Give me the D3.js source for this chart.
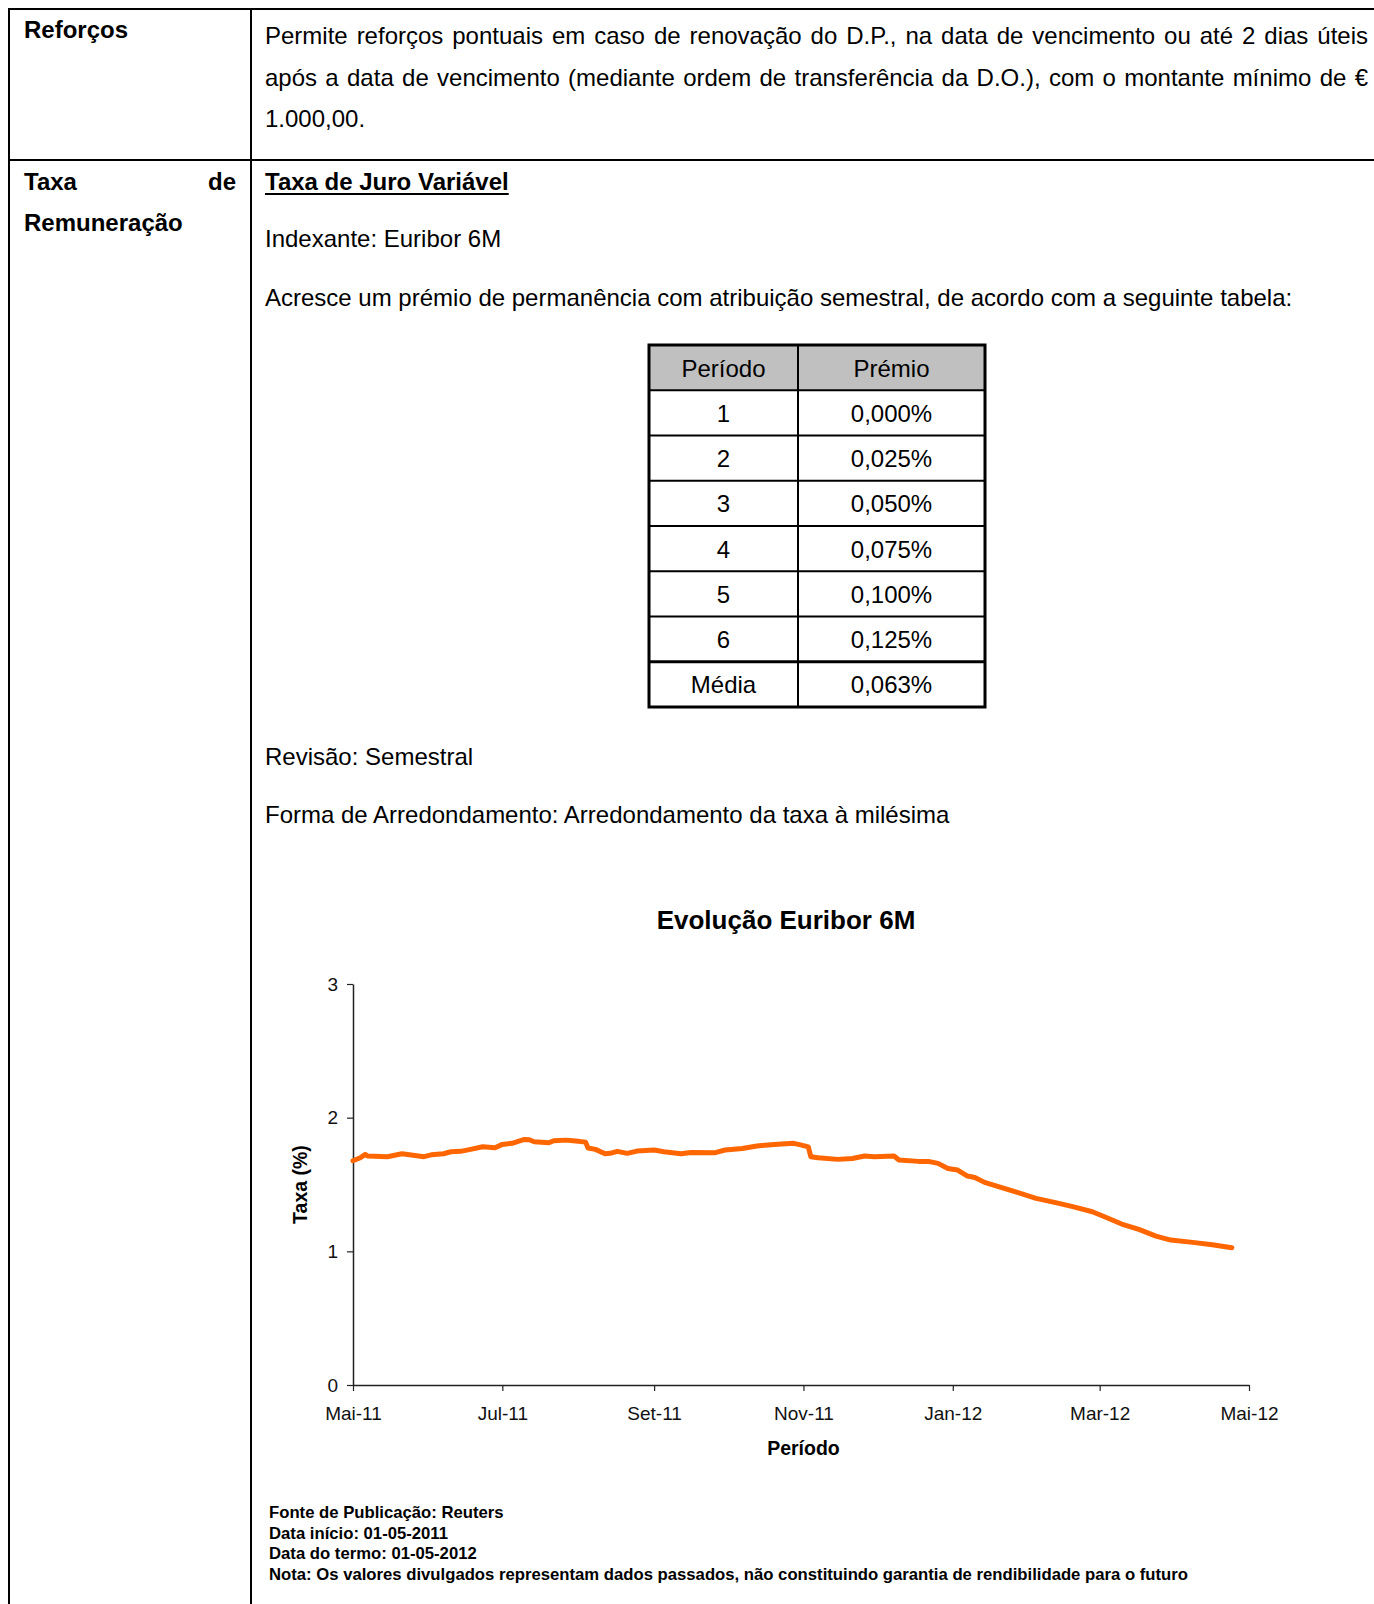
<!DOCTYPE html>
<html lang="pt">
<head>
<meta charset="utf-8">
<title>Evolução Euribor 6M</title>
<script src="https://cdn.jsdelivr.net/npm/d3@7"></script>
<style>
  html, body { margin: 0; padding: 0; background: #fff; }
  svg { display: block; font-family: "Liberation Sans", Arial, Helvetica, sans-serif; }
</style>
</head>
<body>
<div id="app"></div>
<script>
// Euribor 6M (daily fixings thinned out)
const euriborDates = [
  '2011-05-01', '2011-05-04', '2011-05-06', '2011-05-07', '2011-05-15', '2011-05-21', '2011-05-30',
  '2011-06-02', '2011-06-07', '2011-06-10', '2011-06-14', '2011-06-18', '2011-06-23', '2011-06-28',
  '2011-07-01', '2011-07-05', '2011-07-10', '2011-07-12', '2011-07-14', '2011-07-20', '2011-07-22',
  '2011-07-27', '2011-07-31', '2011-08-04', '2011-08-05', '2011-08-08', '2011-08-12', '2011-08-14',
  '2011-08-17', '2011-08-21', '2011-08-25', '2011-09-01', '2011-09-05', '2011-09-12', '2011-09-16',
  '2011-09-26', '2011-09-30', '2011-10-07', '2011-10-13', '2011-10-20', '2011-10-28', '2011-10-30',
  '2011-11-03', '2011-11-04', '2011-11-07', '2011-11-15', '2011-11-21', '2011-11-26', '2011-11-30',
  '2011-12-08', '2011-12-10', '2011-12-18', '2011-12-22', '2011-12-26', '2011-12-30', '2012-01-03',
  '2012-01-07', '2012-01-10', '2012-01-14', '2012-01-21', '2012-01-27', '2012-02-04', '2012-02-12',
  '2012-02-19', '2012-02-27', '2012-03-03', '2012-03-10', '2012-03-17', '2012-03-24', '2012-03-30',
  '2012-04-08', '2012-04-16', '2012-04-24'
];
const euriborValues = [
  1.678, 1.700, 1.725, 1.713, 1.708, 1.730, 1.708,
  1.722, 1.730, 1.745, 1.748, 1.763, 1.782, 1.775,
  1.800, 1.808, 1.837, 1.835, 1.820, 1.812, 1.827,
  1.832, 1.825, 1.817, 1.773, 1.763, 1.730, 1.733,
  1.748, 1.733, 1.750, 1.758, 1.745, 1.730, 1.740,
  1.738, 1.758, 1.770, 1.788, 1.800, 1.808, 1.800,
  1.782, 1.708, 1.700, 1.688, 1.695, 1.713, 1.708,
  1.713, 1.683, 1.673, 1.673, 1.658, 1.620, 1.608,
  1.563, 1.553, 1.516, 1.476, 1.443, 1.396, 1.364,
  1.334, 1.296, 1.259, 1.204, 1.164, 1.114, 1.084,
  1.067, 1.049, 1.027
];
const xTickDates = ['2011-05-01', '2011-07-01', '2011-09-01', '2011-11-01', '2012-01-01', '2012-03-01', '2012-05-01'];
const xTickLabels = ['Mai-11', 'Jul-11', 'Set-11', 'Nov-11', 'Jan-12', 'Mar-12', 'Mai-12'];
const yTicks = [0, 1, 2, 3];

// premium table
const premioPeriodos = ['1', '2', '3', '4', '5', '6', 'Média'];
const premioValores = ['0,000%', '0,025%', '0,050%', '0,075%', '0,100%', '0,125%', '0,063%'];
const tableHeader = ['Período', 'Prémio'];

const notes = [
  'Fonte de Publicação: Reuters',
  'Data início: 01-05-2011',
  'Data do termo: 01-05-2012',
  'Nota: Os valores divulgados representam dados passados, não constituindo garantia de rendibilidade para o futuro'
];

const pageWidth = 1374;
const pageHeight = 1604;
const parseDate = d3.timeParse('%Y-%m-%d');

const svg = d3.select('#app')
  .append('svg')
  .attr('width', pageWidth)
  .attr('height', pageHeight)
  .attr('viewBox', `0 0 ${pageWidth} ${pageHeight}`);

// ---- document frame (two-column table, clipped on the right like the scan)
const frame = svg.append('g').attr('stroke', '#000').attr('stroke-width', 2);
frame.append('line').attr('x1', 8).attr('x2', pageWidth).attr('y1', 9).attr('y2', 9);
frame.append('line').attr('x1', 8).attr('x2', pageWidth).attr('y1', 160).attr('y2', 160);
frame.append('line').attr('x1', 9).attr('x2', 9).attr('y1', 8).attr('y2', pageHeight);
frame.append('line').attr('x1', 251).attr('x2', 251).attr('y1', 8).attr('y2', pageHeight);

const body = svg.append('g').attr('font-size', 24).attr('fill', '#000');

// spread words so the line fills [x0, x1], like justified paragraph text
function justifyLine(parent, text, x0, x1, y, weight) {
  const words = text.split(' ');
  const nodes = words.map((w) => parent.append('text')
    .attr('y', y)
    .attr('font-weight', weight || 'normal')
    .text(w));
  const widths = nodes.map((n) => n.node().getComputedTextLength());
  const gap = words.length > 1 ? (x1 - x0 - d3.sum(widths)) / (words.length - 1) : 0;
  let x = x0;
  nodes.forEach((n, i) => {
    n.attr('x', x);
    x += widths[i] + gap;
  });
}

// left column labels
body.append('text').attr('x', 24).attr('y', 38).attr('font-weight', 'bold').text('Reforços');
justifyLine(body, 'Taxa de', 24, 236, 190, 'bold');
body.append('text').attr('x', 24).attr('y', 231).attr('font-weight', 'bold').text('Remuneração');

// right column paragraphs
justifyLine(body, 'Permite reforços pontuais em caso de renovação do D.P., na data de vencimento ou até 2 dias úteis', 265, 1368, 44);
justifyLine(body, 'após a data de vencimento (mediante ordem de transferência da D.O.), com o montante mínimo de €', 265, 1368, 86);
body.append('text').attr('x', 265).attr('y', 127).text('1.000,00.');

const heading = body.append('text').attr('x', 265).attr('y', 190).attr('font-weight', 'bold')
  .text('Taxa de Juro Variável');
const headingWidth = heading.node().getComputedTextLength();
body.append('line')
  .attr('x1', 265).attr('x2', 265 + headingWidth)
  .attr('y1', 194).attr('y2', 194)
  .attr('stroke', '#000').attr('stroke-width', 2);

body.append('text').attr('x', 265).attr('y', 247).text('Indexante: Euribor 6M');
body.append('text').attr('x', 265).attr('y', 306)
  .text('Acresce um prémio de permanência com atribuição semestral, de acordo com a seguinte tabela:');
body.append('text').attr('x', 265).attr('y', 765).text('Revisão: Semestral');
body.append('text').attr('x', 265).attr('y', 823)
  .text('Forma de Arredondamento: Arredondamento da taxa à milésima');

// ---- premium table
const tableRows = premioPeriodos.map((p, i) => ({ periodo: p, premio: premioValores[i] }));
const rowScale = d3.scaleBand()
  .domain(['header', ...premioPeriodos])
  .range([345, 707]);
const colX = [649, 798, 985];

const table = svg.append('g').attr('class', 'premio-table');
table.append('rect')
  .attr('x', colX[0]).attr('y', rowScale('header'))
  .attr('width', colX[2] - colX[0]).attr('height', rowScale.bandwidth())
  .attr('fill', '#c0c0c0');

table.selectAll('line.row')
  .data(premioPeriodos)
  .join('line')
  .attr('class', 'row')
  .attr('x1', colX[0]).attr('x2', colX[2])
  .attr('y1', (d) => rowScale(d)).attr('y2', (d) => rowScale(d))
  .attr('stroke', '#000')
  .attr('stroke-width', (d) => (d === 'Média' ? 3 : 2));
table.append('line')
  .attr('x1', colX[1]).attr('x2', colX[1])
  .attr('y1', rowScale('header')).attr('y2', 707)
  .attr('stroke', '#000').attr('stroke-width', 2);
table.append('rect')
  .attr('x', colX[0]).attr('y', rowScale('header'))
  .attr('width', colX[2] - colX[0]).attr('height', 707 - rowScale('header'))
  .attr('fill', 'none').attr('stroke', '#000').attr('stroke-width', 3);

const cellText = table.append('g').attr('font-size', 24).attr('text-anchor', 'middle').attr('fill', '#000');
cellText.selectAll('text.head')
  .data(tableHeader)
  .join('text')
  .attr('class', 'head')
  .attr('x', (d, i) => (colX[i] + colX[i + 1]) / 2)
  .attr('y', rowScale('header') + rowScale.bandwidth() / 2 + 9)
  .text((d) => d);
cellText.selectAll('text.periodo')
  .data(tableRows)
  .join('text')
  .attr('class', 'periodo')
  .attr('x', (colX[0] + colX[1]) / 2)
  .attr('y', (d) => rowScale(d.periodo) + rowScale.bandwidth() / 2 + 9)
  .text((d) => d.periodo);
cellText.selectAll('text.premio')
  .data(tableRows)
  .join('text')
  .attr('class', 'premio')
  .attr('x', (colX[1] + colX[2]) / 2)
  .attr('y', (d) => rowScale(d.periodo) + rowScale.bandwidth() / 2 + 9)
  .text((d) => d.premio);

// ---- chart
const margin = { top: 984, left: 353 };
const plotWidth = 896;
const plotHeight = 401;

const x = d3.scaleTime()
  .domain([parseDate('2011-05-01'), parseDate('2012-05-01')])
  .range([0, plotWidth]);
const y = d3.scaleLinear().domain([0, 3]).range([plotHeight, 0]);

const chart = svg.append('g').attr('transform', `translate(${margin.left},${margin.top})`);

chart.append('text')
  .attr('x', 433)
  .attr('y', -55)
  .attr('text-anchor', 'middle')
  .attr('font-size', 26)
  .attr('font-weight', 'bold')
  .text('Evolução Euribor 6M');

const xAxis = chart.append('g')
  .attr('transform', `translate(0,${plotHeight})`)
  .call(d3.axisBottom(x)
    .tickValues(xTickDates.map(parseDate))
    .tickFormat((d, i) => xTickLabels[i])
    .tickSize(6)
    .tickSizeOuter(0)
    .tickPadding(16));

const yAxis = chart.append('g')
  .call(d3.axisLeft(y)
    .tickValues(yTicks)
    .tickFormat(d3.format('d'))
    .tickSize(6)
    .tickSizeOuter(0)
    .tickPadding(9));

[xAxis, yAxis].forEach((axis) => {
  axis.select('.domain').attr('stroke', '#222').attr('stroke-width', 1.5);
  axis.selectAll('.tick line').attr('stroke', '#222').attr('stroke-width', 1.2);
  axis.selectAll('.tick text')
    .attr('font-family', '"Liberation Sans", Arial, sans-serif')
    .attr('font-size', 19)
    .attr('fill', '#111');
});

chart.append('text')
  .attr('x', x(parseDate('2011-11-01')))
  .attr('y', plotHeight + 70)
  .attr('text-anchor', 'middle')
  .attr('font-size', 19.5)
  .attr('font-weight', 'bold')
  .text('Período');

chart.append('text')
  .attr('transform', `translate(-46,${y(1.5)}) rotate(-90)`)
  .attr('text-anchor', 'middle')
  .attr('font-size', 19.5)
  .attr('font-weight', 'bold')
  .text('Taxa (%)');

const series = euriborDates.map((d, i) => ({ date: parseDate(d), value: euriborValues[i] }));
const line = d3.line()
  .x((d) => x(d.date))
  .y((d) => y(d.value));

chart.append('path')
  .datum(series)
  .attr('fill', 'none')
  .attr('stroke', '#ff6600')
  .attr('stroke-width', 5)
  .attr('stroke-linejoin', 'round')
  .attr('stroke-linecap', 'round')
  .attr('d', line);

// ---- source notes under the chart
svg.append('g')
  .attr('font-size', 16.7)
  .attr('font-weight', 'bold')
  .selectAll('text')
  .data(notes)
  .join('text')
  .attr('x', 269)
  .attr('y', (d, i) => 1518 + i * 20.5)
  .text((d) => d);
</script>
</body>
</html>
